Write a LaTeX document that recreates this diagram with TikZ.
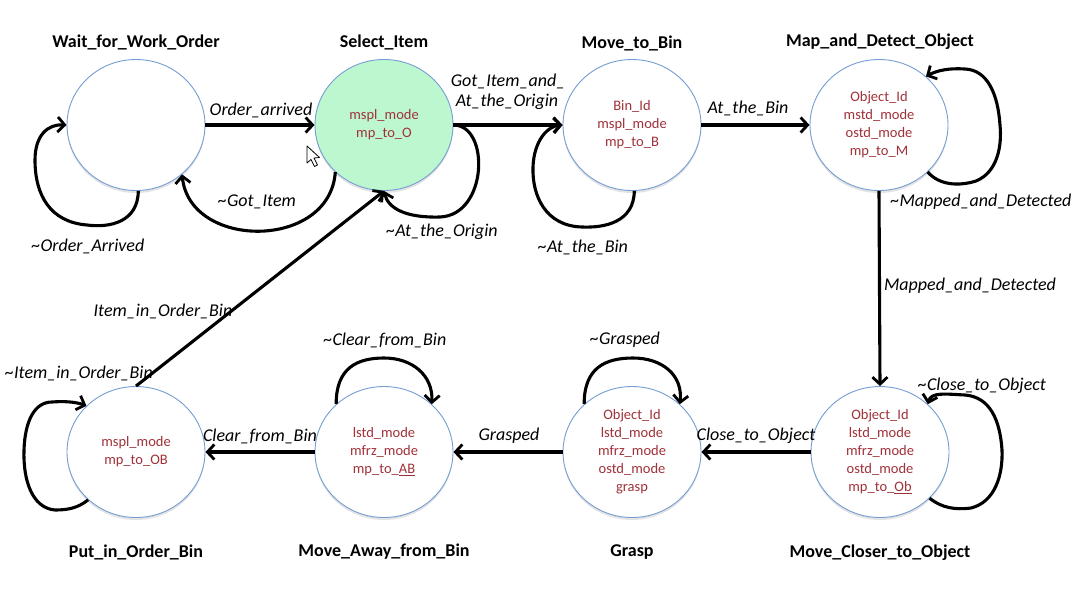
\documentclass[tikz,border=0pt]{standalone}
\usepackage{fontspec}
\setmainfont{Carlito}
\usetikzlibrary{arrows.meta,shapes.geometric,shadows}
\definecolor{stateblue}{RGB}{118,158,210}
\definecolor{stategreen}{RGB}{188,247,208}
\definecolor{vartext}{RGB}{160,50,58}
\begin{document}
\begin{tikzpicture}[x=1pt,y=-1pt,
  state/.style={ellipse,draw=stateblue,line width=0.9pt,fill=white,minimum width=138pt,minimum height=131pt,inner sep=0pt,
    drop shadow={opacity=0.22,shadow xshift=0pt,shadow yshift=-2.5pt},
    align=center,text=vartext,font=\fontsize{14.5}{18}\selectfont},
  title/.style={font=\bfseries\fontsize{18}{21}\selectfont,inner sep=0pt},
  lbl/.style={font=\itshape\fontsize{18}{21}\selectfont,inner sep=0pt,align=center},
  trans/.style={line width=3.1pt,-{Straight Barb[length=7pt,width=15pt,line width=2.8pt]}}
]
\useasboundingbox (0,0) rectangle (1081,600);
\fill[white] (0,0) rectangle (1081,600);

% states
\node[state] (W) at (136,125) {};
\node[state,fill=stategreen] (S) at (384,125) {mspl\_mode\\mp\_to\_O};
\node[state] (B) at (632,125) {Bin\_Id\\mspl\_mode\\mp\_to\_B};
\node[state] (D) at (879,125) {Object\_Id\\mstd\_mode\\ostd\_mode\\mp\_to\_M};
\node[state] (P) at (136,452) {mspl\_mode\\mp\_to\_OB};
\node[state] (A) at (384,452) {lstd\_mode\\mfrz\_mode\\mp\_to\_\underline{AB}};
\node[state] (G) at (632,452) {Object\_Id\\lstd\_mode\\mfrz\_mode\\ostd\_mode\\grasp};
\node[state] (C) at (880,452) {Object\_Id\\lstd\_mode\\mfrz\_mode\\ostd\_mode\\mp\_to\_\underline{Ob}};

% titles
\node[title] (tW) at (136,42) {Wait\_for\_Work\_Order};
\node[title] (tS) at (384,42) {Select\_Item};
\node[title] (tB) at (632,43) {Move\_to\_Bin};
\node[title] (tD) at (880,42) {Map\_and\_Detect\_Object};
\node[title] (tP) at (136,552) {Put\_in\_Order\_Bin};
\node[title] (tA) at (384,552) {Move\_Away\_from\_Bin};
\node[title] (tG) at (632,552) {Grasp};
\node[title] (tC) at (880,553) {Move\_Closer\_to\_Object};

% transitions
\draw[trans] (W.east) -- (S.west);
\draw[trans] (W.-88) .. controls (138,222) and (110,228) .. (87,225)
  .. controls (50,222) and (35,195) .. (35,160)
  .. controls (35,135) and (48,124) .. (W.west);
\draw[trans] (S.-136) .. controls (330,250) and (190,250) .. (W.-47);
\draw[trans] (S.0) .. controls (490,125) and (488,215) .. (440,217)
  .. controls (405,218) and (388,208) .. (S.-90);
\draw[trans] (S.east) -- (B.west);
\draw[trans] (B.-88) .. controls (634,222) and (605,228) .. (582,227)
  .. controls (545,226) and (532,195) .. (533,167)
  .. controls (534,140) and (548,126) .. (B.west);
\draw[trans] (B.east) -- (D.west);
\draw[trans] (D.-44) .. controls (940,186) and (960,186) .. (976,181)
  .. controls (998,172) and (1002,145) .. (1000,125)
  .. controls (998,95) and (988,70) .. (965,69)
  .. controls (950,68) and (938,70) .. (D.46);
\draw[trans] (D.south) -- (C.north);
\draw[trans] (C.-43) .. controls (942,508) and (955,510) .. (971,508)
  .. controls (995,502) and (1003,475) .. (1002,450)
  .. controls (1000,420) and (990,397) .. (965,395)
  .. controls (945,394) and (931,392) .. (C.45);
\draw[trans] (C.west) -- (G.east);
\draw[trans] (G.135) .. controls (584,368) and (605,358) .. (633,358)
  .. controls (662,358) and (683,375) .. (G.45);
\draw[trans] (G.west) -- (A.east);
\draw[trans] (A.135) .. controls (336,368) and (357,358) .. (384,358)
  .. controls (412,358) and (433,375) .. (A.45);
\draw[trans] (A.west) -- (P.east);
\draw[trans] (P.-135) .. controls (78,508) and (68,510) .. (55,510)
  .. controls (32,508) and (23,480) .. (24,450)
  .. controls (25,420) and (35,402) .. (52,402)
  .. controls (65,401) and (76,402) .. (P.137);
\draw[trans] (P.north) -- (S.south);

% labels
\node[lbl] (l1) at (261,110) {Order\_arrived};
\node[lbl] (l2) at (88,246) {\textasciitilde Order\_Arrived};
\node[lbl] (l3) at (257,202) {\textasciitilde Got\_Item};
\node[lbl] (l4) at (442,232) {\textasciitilde At\_the\_Origin};
\node[lbl] (l5) at (508,81) {Got\_Item\_and\_};
\node[lbl] (l6) at (507,102) {At\_the\_Origin};
\node[lbl] (l7) at (583,247) {\textasciitilde At\_the\_Bin};
\node[lbl] (l8) at (748,108) {At\_the\_Bin};
\node[lbl] (l9) at (981,202) {\textasciitilde Mapped\_and\_Detected};
\node[lbl] (l10) at (970,286) {Mapped\_and\_Detected};
\node[lbl] (l11) at (982,386) {\textasciitilde Close\_to\_Object};
\node[lbl] (l12) at (756,436) {Close\_to\_Object};
\node[lbl] (l13) at (625,340) {\textasciitilde Grasped};
\node[lbl] (l14) at (509,436) {Grasped};
\node[lbl] (l15) at (385,340) {\textasciitilde Clear\_from\_Bin};
\node[lbl] (l16) at (260,436) {Clear\_from\_Bin};
\node[lbl] (l17) at (163,311) {Item\_in\_Order\_Bin};
\node[lbl] (l18) at (79,373) {\textasciitilde Item\_in\_Order\_Bin};

% mouse pointer
\draw[fill=white,line width=0.8pt,line join=round] (307,146) -- (307,163) -- (311,159.5) -- (314.5,166.5) -- (317.5,165) -- (314,158) -- (319.5,157.5) -- cycle;
\end{tikzpicture}
\end{document}
